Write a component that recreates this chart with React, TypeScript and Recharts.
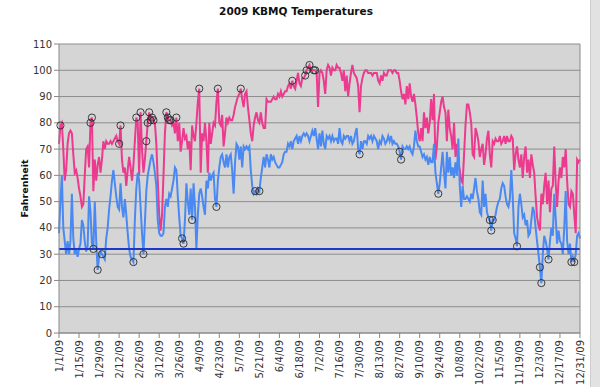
import { CartesianGrid, Line, LineChart, ReferenceLine, XAxis, YAxis } from "recharts"

// daily highs / lows, 2009 (°F)
const highs = [
  72, 79, 80, 70, 58, 62, 72, 76, 77, 76,
  68, 61, 62, 59, 55, 52, 48, 49, 60, 70,
  71, 63, 80, 82, 54, 66, 58, 64, 67, 61,
  66, 73, 70, 73, 72, 72, 73, 72, 73, 74,
  75, 73, 72, 79, 66, 61, 63, 56, 62, 67,
  63, 58, 64, 73, 82, 80, 60, 84, 70, 61,
  66, 73, 80, 84, 81, 82, 81, 80, 72, 58,
  45, 39, 45, 60, 76, 84, 82, 81, 81, 79,
  80, 76, 82, 73, 80, 69, 73, 78, 74, 75,
  70, 73, 62, 79, 75, 73, 80, 88, 93, 61,
  76, 73, 80, 73, 61, 80, 72, 76, 80, 79,
  88, 93, 80, 79, 83, 71, 76, 82, 80, 82,
  81, 81, 83, 86, 88, 90, 91, 93, 89, 86,
  91, 92, 86, 81, 76, 73, 79, 82, 84, 81,
  80, 84, 80, 78, 78, 89, 88, 88, 88, 89,
  90, 89, 89, 91, 90, 92, 90, 91, 92, 92,
  94, 95, 93, 96, 94, 93, 96, 99, 95, 94,
  97, 97, 98, 100, 101, 102, 100, 100, 100, 100,
  99, 86, 99, 100, 99, 96, 91, 100, 102, 101,
  98, 101, 100, 100, 102, 101, 101, 99, 96, 100,
  92, 98, 90, 95, 99, 102, 99, 98, 97, 94,
  84, 94, 97, 99, 100, 100, 99, 99, 99, 98,
  99, 99, 99, 96, 95, 98, 96, 99, 98, 98,
  100, 100, 100, 99, 100, 100, 99, 99, 96, 92,
  89, 91, 87, 94, 89, 95, 90, 88, 91, 87,
  82, 76, 73, 78, 73, 84, 78, 82, 76, 80,
  89, 81, 91, 66, 71, 80, 84, 88, 90, 86,
  84, 73, 85, 78, 75, 70, 80, 67, 72, 65,
  62, 58, 57, 68, 79, 87, 87, 84, 80, 68,
  67, 78, 76, 73, 67, 70, 72, 64, 68, 74,
  77, 68, 63, 73, 72, 74, 73, 73, 75, 72,
  73, 75, 72, 75, 73, 73, 75, 74, 62, 68,
  71, 66, 63, 68, 59, 67, 71, 61, 66, 59,
  68, 64, 61, 52, 44, 41, 39, 53, 49, 56,
  61, 49, 58, 46, 55, 56, 71, 57, 48, 58,
  63, 59, 67, 63, 70, 58, 49, 48, 54, 53,
  45, 38, 66, 65, 66,
]

const lows = [
  38, 50, 60, 40, 35, 30, 35, 30, 35, 53,
  36, 30, 32, 29, 32, 34, 43, 41, 35, 31,
  33, 52, 46, 34, 32, 50, 35, 24, 29, 31,
  30, 29, 28, 36, 40, 47, 52, 58, 62, 57,
  52, 48, 47, 57, 48, 44, 51, 45, 38, 32,
  29, 28, 27, 43, 55, 61, 58, 48, 38, 30,
  42, 54, 60, 63, 66, 68, 65, 61, 56, 43,
  38, 37, 37, 38, 48, 51, 48, 53, 52, 55,
  58, 63, 62, 52, 44, 37, 36, 34, 43, 57,
  50, 45, 55, 43, 57, 48, 32, 45, 53, 55,
  52, 48, 45, 58, 55, 61, 58, 60, 61, 51,
  48, 58, 63, 67, 68, 65, 63, 68, 63, 67,
  68, 62, 53, 65, 72, 71, 66, 71, 63, 71,
  70, 71, 70, 71, 62, 56, 53, 54, 53, 55,
  54, 59, 63, 67, 63, 68, 66, 63, 68, 66,
  67, 65, 64, 63, 63, 64, 65, 68, 69, 69,
  72, 71, 73, 70, 73, 74, 75, 72, 75, 73,
  75, 76, 75, 76, 75, 73, 75, 77, 75, 78,
  74, 70, 76, 71, 77, 72, 70, 75, 74, 75,
  73, 75, 73, 74, 74, 72, 78, 73, 72, 75,
  74, 75, 75, 73, 75, 72, 73, 76, 78, 70,
  68, 73, 70, 73, 73, 72, 75, 74, 75, 73,
  75, 74, 73, 70, 73, 72, 75, 74, 72, 73,
  75, 73, 75, 72, 73, 72, 72, 71, 69, 66,
  71, 70, 70, 71, 70, 71, 69, 68, 71, 77,
  73, 71, 71, 69, 67, 68, 66, 67, 64, 67,
  65, 65, 72, 61, 57, 53, 57, 63, 69, 61,
  55, 69, 61, 67, 60, 63, 59, 65, 60, 74,
  56, 48, 56, 51, 51, 52, 51, 50, 53, 51,
  55, 59, 54, 51, 46, 45, 58, 48, 53, 46,
  44, 43, 39, 43, 43, 45, 48, 50, 51, 55,
  57, 56, 52, 49, 48, 51, 62, 52, 38, 36,
  33, 48, 53, 49, 44, 45, 41, 43, 37, 38,
  43, 48, 46, 40, 35, 30, 25, 19, 30, 37,
  35, 32, 28, 35, 40, 37, 53, 44, 34, 39,
  35, 34, 30, 40, 54, 35, 30, 34, 27, 29,
  27, 30, 37, 38, 36,
]

// day-of-year indexes that got a record circle
const recordHighDays = [1, 22, 23, 42, 43, 54, 57, 61, 62, 63, 64, 65, 66, 75, 76, 77, 78, 82, 98, 111, 127, 163, 172, 173, 175, 178, 179]
const recordLowDays = [24, 27, 30, 52, 59, 86, 87, 93, 110, 137, 140, 210, 238, 239, 265, 301, 302, 303, 320, 336, 337, 342, 358, 360]

const FREEZING = 32
const yTicks = [0, 10, 20, 30, 40, 50, 60, 70, 80, 90, 100, 110]

const START = Date.UTC(2009, 0, 1)
const dates = highs.map((_, i) => {
  const d = new Date(START + i * 86400000)
  return `${d.getUTCMonth() + 1}/${d.getUTCDate()}/09`
})

const data = dates.map((date, i) => ({ date, high: highs[i], low: lows[i] }))

const FONT = "'DejaVu Sans', Verdana, sans-serif"
const PINK = "#ec3a8e"
const BLUE = "#4b89f2"

const makeDot = (days: number[]) => {
  const set = new Set(days)
  return (p: any) => {
    if (!set.has(p.index) || p.cx == null) return <g key={`n${p.index}`} />
    return <circle key={`c${p.index}`} cx={p.cx} cy={p.cy} r={3.6} fill="none" stroke="#2a2a2a" strokeWidth={0.9} />
  }
}

function XTick({ x, y, payload }: any) {
  return (
    <text x={x} y={y} transform={`rotate(-90, ${x}, ${y})`} textAnchor="end" dy={3.5}
      fontSize={10} fontFamily={FONT} fill="#333">
      {payload.value}
    </text>
  )
}

function YLabel({ viewBox }: any) {
  const cx = viewBox.x + 24
  const cy = viewBox.y + viewBox.height / 2
  return (
    <text x={cx} y={cy} transform={`rotate(-90, ${cx}, ${cy})`} textAnchor="middle" dy={3.5}
      fontSize={9.5} fontWeight="bold" fontFamily={FONT} fill="#111">
      Fahrenheit
    </text>
  )
}

export default function App() {
  return (
    <div style={{ position: "relative", width: 600, height: 387, background: "#fff", fontFamily: FONT }}>
      <style>{`body{margin:0}`}</style>
      <div style={{ position: "absolute", top: 5, left: 0, width: 592, textAlign: "center", fontSize: 10.5, fontWeight: "bold", color: "#111" }}>
        2009 KBMQ Temperatures
      </div>
      <div style={{ position: "absolute", top: 0, left: 590, width: 10, height: 387, background: "#e2e2e2", borderLeft: "1px solid #cdcdcd" }} />
      <div style={{ position: "absolute", top: 0, left: 0 }}>
        <LineChart width={600} height={387} data={data} margin={{ top: 44, right: 19, bottom: 0, left: 0 }}>
          <CartesianGrid vertical={false} stroke="#8d8d8d" fill="#d5d5d5" />
          <XAxis dataKey="date" interval={13} height={54} tick={<XTick />}
            axisLine={{ stroke: "#888" }} tickLine={{ stroke: "#888" }} tickSize={5} />
          <YAxis domain={[0, 110]} ticks={yTicks} width={59} interval={0}
            tick={{ fontSize: 10, fontFamily: FONT, fill: "#333" }}
            axisLine={{ stroke: "#888" }} tickLine={{ stroke: "#888" }} tickSize={5}
            label={<YLabel />} />
          <YAxis yAxisId="frame" orientation="right" domain={[0, 110]} width={1} tick={false}
            tickLine={false} axisLine={{ stroke: "#888" }} />
          <Line type="linear" dataKey="high" stroke={PINK} strokeWidth={2} dot={makeDot(recordHighDays)}
            activeDot={false} isAnimationActive={false} />
          <Line type="linear" dataKey="low" stroke={BLUE} strokeWidth={2} dot={makeDot(recordLowDays)}
            activeDot={false} isAnimationActive={false} />
          <ReferenceLine y={FREEZING} stroke="#1b39c6" strokeWidth={2} />
        </LineChart>
      </div>
    </div>
  )
}
